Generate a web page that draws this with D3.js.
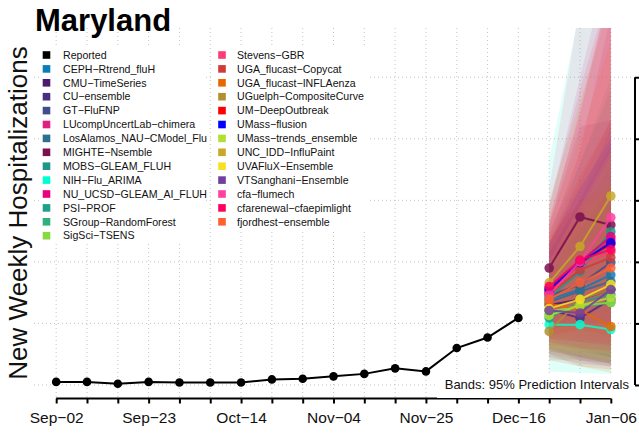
<!DOCTYPE html>
<html>
<head>
<meta charset="utf-8">
<script src="https://cdn.jsdelivr.net/npm/d3@7"></script>
<style>
	body { margin: 0; background: #fff; }
	svg { display: block; font-family: "Liberation Sans", Arial, sans-serif; }
</style>
</head>
<body>
<div id="chart"></div>
<script>

// weekly dates on the x axis (Sep-02 .. Jan-06)
const weekDates = ["2024-09-02","2024-09-09","2024-09-16","2024-09-23","2024-09-30","2024-10-07",
	"2024-10-14","2024-10-21","2024-10-28","2024-11-04","2024-11-11","2024-11-18","2024-11-25",
	"2024-12-02","2024-12-09","2024-12-16","2024-12-23","2024-12-30","2025-01-06"];

// reported weekly hospitalizations, Sep-02 .. Dec-16
const reported = [5, 5, 2, 5, 4, 4, 4, 9, 10, 14, 18, 27, 22, 60, 77, 109];

// forecast target dates
const forecastDates = ["2024-12-23","2024-12-30","2025-01-06"];

const models = ["CEPH-Rtrend_fluH","CMU-TimeSeries","CU-ensemble","GT-FluFNP","LUcompUncertLab-chimera",
	"LosAlamos_NAU-CModel_Flu","MIGHTE-Nsemble","MOBS-GLEAM_FLUH","NIH-Flu_ARIMA","NU_UCSD-GLEAM_AI_FLUH",
	"PSI-PROF","SGroup-RandomForest","SigSci-TSENS","Stevens-GBR","UGA_flucast-Copycat",
	"UGA_flucast-INFLAenza","UGuelph-CompositeCurve","UM-DeepOutbreak","UMass-flusion",
	"UMass-trends_ensemble","UNC_IDD-InfluPaint","UVAFluX-Ensemble","VTSanghani-Ensemble",
	"cfa-flumech","cfarenewal-cfaepimlight","fjordhest-ensemble"];

const modelColors = ["#0b7db8","#4b1a6e","#4a2c80","#3e4e8e","#e0207e","#2e6e8e","#7a1050","#20968a",
	"#00ffd0","#e8007e","#20a08a","#30b080","#88d840","#ff3a78","#d03a3a","#e86800","#b09030",
	"#ff0000","#0000ff","#b0e030","#c8a828","#f8e020","#7040a0","#ff40a0","#ff0060","#ff6030"];

// median forecasts per model (Dec-23, Dec-30, Jan-06)
const medians = [
	[139,155,179],[130,139,155],[122,109,139],[145,163,199],[155,195,236],[135,152,168],
	[190,273,260],[142,184,249],[98,98,90],[158,200,241],[109,135,147],[114,127,134],
	[119,129,134],[152,194,216],[148,187,207],[132,122,95],[87,139,155],[150,199,229],
	[155,199,231],[113,129,142],[166,225,307],[124,139,163],[121,117,155],[147,200,272],
	[160,203,220],[139,166,190]];

// 95% prediction interval, lower bound
const lower95 = [
	[70,55,45],[80,70,60],[75,60,45],[90,80,75],[60,40,30],[55,45,35],
	[120,140,120],[70,60,55],[22,20,18],[85,75,70],[60,45,35],[50,40,35],
	[55,45,40],[70,60,55],[40,30,25],[50,30,20],[40,40,35],[80,90,80],
	[90,100,100],[60,50,40],[70,80,90],[60,55,50],[45,35,30],[65,60,55],
	[75,70,65],[55,45,35]];

// 95% prediction interval, upper bound
const upper95 = [
	[230,330,430],[200,280,360],[185,250,320],[215,300,390],[290,500,700],[250,360,480],
	[260,420,430],[230,360,500],[366,611,850],[240,380,600],[180,260,340],[190,250,320],
	[200,270,330],[260,450,650],[290,480,650],[240,300,320],[160,270,320],[230,340,430],
	[230,320,400],[190,280,370],[300,460,620],[200,290,380],[220,300,420],[320,620,1000],
	[270,440,650],[260,400,560]];

const yTicks = [0, 100, 200, 300, 400, 500];

const width = 639, height = 436;
const plot = {left: 34, right: 633, top: 28, bottom: 398.5};

const parse = d3.utcParse("%Y-%m-%d");
const fmt = d3.utcFormat("%b-%d");
const weeks = weekDates.map(parse);
const fDates = forecastDates.map(parse);

const pad = (weeks[weeks.length - 1] - weeks[0]) * 0.04;
const x = d3.scaleUtc()
	.domain([new Date(+weeks[0] - pad), new Date(+weeks[weeks.length - 1] + pad)])
	.range([plot.left, plot.right]);

const y = d3.scaleLinear()
	.domain([-22, 580])
	.range([plot.bottom, plot.top]);

const svg = d3.select("#chart")
	.append("svg")
		.attr("width", width)
		.attr("height", height);

svg.append("defs").append("clipPath")
	.attr("id", "plot-clip")
	.append("rect")
		.attr("x", plot.left)
		.attr("y", plot.top)
		.attr("width", plot.right - plot.left)
		.attr("height", plot.bottom - plot.top);

// grid
let grid = svg.append("g")
	.attr("stroke", "#c4c4c4")
	.attr("stroke-dasharray", "1,3")
	.attr("stroke-width", 1);

grid.selectAll(".vgrid")
	.data(weeks)
	.enter()
	.append("line")
		.attr("x1", d => x(d)).attr("x2", d => x(d))
		.attr("y1", plot.top).attr("y2", plot.bottom);

grid.selectAll(".hgrid")
	.data(yTicks)
	.enter()
	.append("line")
		.attr("x1", plot.left).attr("x2", plot.right)
		.attr("y1", d => y(d)).attr("y2", d => y(d));

let inner = svg.append("g").attr("clip-path", "url(#plot-clip)");

// prediction bands
let band = d3.area()
	.x((d, i) => x(fDates[i]))
	.y0(d => y(d[0]))
	.y1(d => y(d[1]));

inner.selectAll(".band")
	.data(models)
	.enter()
	.append("path")
		.attr("d", (m, k) => band(fDates.map((d, i) => [lower95[k][i], upper95[k][i]])))
		.attr("fill", (m, k) => modelColors[k])
		.attr("fill-opacity", 0.12);

// reported
let line = d3.line()
	.x(d => x(d[0]))
	.y(d => y(d[1]));

let rep = reported.map((v, i) => [weeks[i], v]);

inner.append("path")
	.attr("d", line(rep))
	.attr("fill", "none")
	.attr("stroke", "black")
	.attr("stroke-width", 2);

inner.selectAll(".rep-pt")
	.data(rep)
	.enter()
	.append("circle")
		.attr("cx", d => x(d[0]))
		.attr("cy", d => y(d[1]))
		.attr("r", 4.3)
		.attr("fill", "black");

// forecasts
models.forEach(function(m, k)
{
	let pts = medians[k].map((v, i) => [fDates[i], v]);

	let g = inner.append("g")
		.attr("opacity", 0.85);

	g.append("path")
		.attr("d", line(pts))
		.attr("fill", "none")
		.attr("stroke", modelColors[k])
		.attr("stroke-width", 2);

	g.selectAll("circle")
		.data(pts)
		.enter()
		.append("circle")
			.attr("cx", d => x(d[0]))
			.attr("cy", d => y(d[1]))
			.attr("r", 4.8)
			.attr("fill", modelColors[k]);
});

// x axis
let xAxis = svg.append("g")
	.attr("transform", "translate(0," + plot.bottom + ")")
	.call(d3.axisBottom(x)
		.tickValues(weeks)
		.tickSize(5)
		.tickPadding(8)
		.tickFormat((d, i) => i % 3 == 0 ? fmt(d).replace("-", "\u2212") : ""));

xAxis.select(".domain").remove();
xAxis.selectAll(".tick line").attr("stroke-width", 2);
xAxis.selectAll(".tick text")
	.attr("font-size", "15.5px")
	.attr("font-family", "Liberation Sans, Arial, sans-serif")
	.attr("fill", "#111");

xAxis.append("line")
	.attr("x1", x(weeks[0])).attr("x2", x(weeks[weeks.length - 1]))
	.attr("stroke", "black")
	.attr("stroke-width", 2);

// y axis on the right, labels fall outside the window
let yAxis = svg.append("g")
	.attr("transform", "translate(635,0)")
	.call(d3.axisRight(y)
		.tickValues(yTicks)
		.tickSize(7)
		.tickFormat(""));

yAxis.select(".domain").remove();
yAxis.selectAll(".tick line").attr("stroke-width", 2);
yAxis.append("line")
	.attr("y1", y(yTicks[0])).attr("y2", y(yTicks[yTicks.length - 1]))
	.attr("stroke", "black")
	.attr("stroke-width", 2);

// titles
svg.append("text")
	.attr("x", 35)
	.attr("y", 31)
	.attr("font-size", "31px")
	.attr("font-weight", "bold")
	.text("Maryland");

svg.append("text")
	.attr("transform", "translate(27,213) rotate(-90)")
	.attr("text-anchor", "middle")
	.attr("font-size", "26px")
	.attr("fill", "#111")
	.text("New Weekly Hospitalizations");

// legend, two columns
let legendNames = ["Reported"].concat(models);
let legendColors = ["black"].concat(modelColors);
let rowH = 13.9;
let col1 = legendNames.slice(0, 14).map((n, i) => ({name: n, color: legendColors[i], col: 0, row: i}));
let col2 = legendNames.slice(14).map((n, i) => ({name: n, color: legendColors[i + 14], col: 1, row: i}));
let colX = [46.5, 222];

svg.append("rect")
	.attr("x", 41).attr("y", 46).attr("width", 165).attr("height", 198)
	.attr("fill", "white");
svg.append("rect")
	.attr("x", 214).attr("y", 46).attr("width", 156).attr("height", 184)
	.attr("fill", "white");

let leg = svg.selectAll(".leg")
	.data(col1.concat(col2))
	.enter()
	.append("g")
		.attr("transform", d => "translate(" + colX[d.col] + "," + (55 + d.row * rowH) + ")");

leg.append("rect")
	.attr("x", -3.8).attr("y", -3.8)
	.attr("width", 7.6).attr("height", 7.6)
	.attr("fill", d => d.color);

leg.append("text")
	.attr("x", d => d.col == 0 ? 16.5 : 15)
	.attr("dy", "0.35em")
	.attr("font-size", "10.6px")
	.attr("fill", "#111")
	.text(d => d.name.replace(/-/g, "\u2212"));

// bands note
svg.append("rect")
	.attr("x", 437).attr("y", 374).attr("width", 196).attr("height", 24)
	.attr("fill", "white");

svg.append("text")
	.attr("x", 629)
	.attr("y", 384)
	.attr("dy", "0.35em")
	.attr("text-anchor", "end")
	.attr("font-size", "13px")
	.attr("fill", "#111")
	.text("Bands: 95% Prediction Intervals");

</script>
</body>
</html>
